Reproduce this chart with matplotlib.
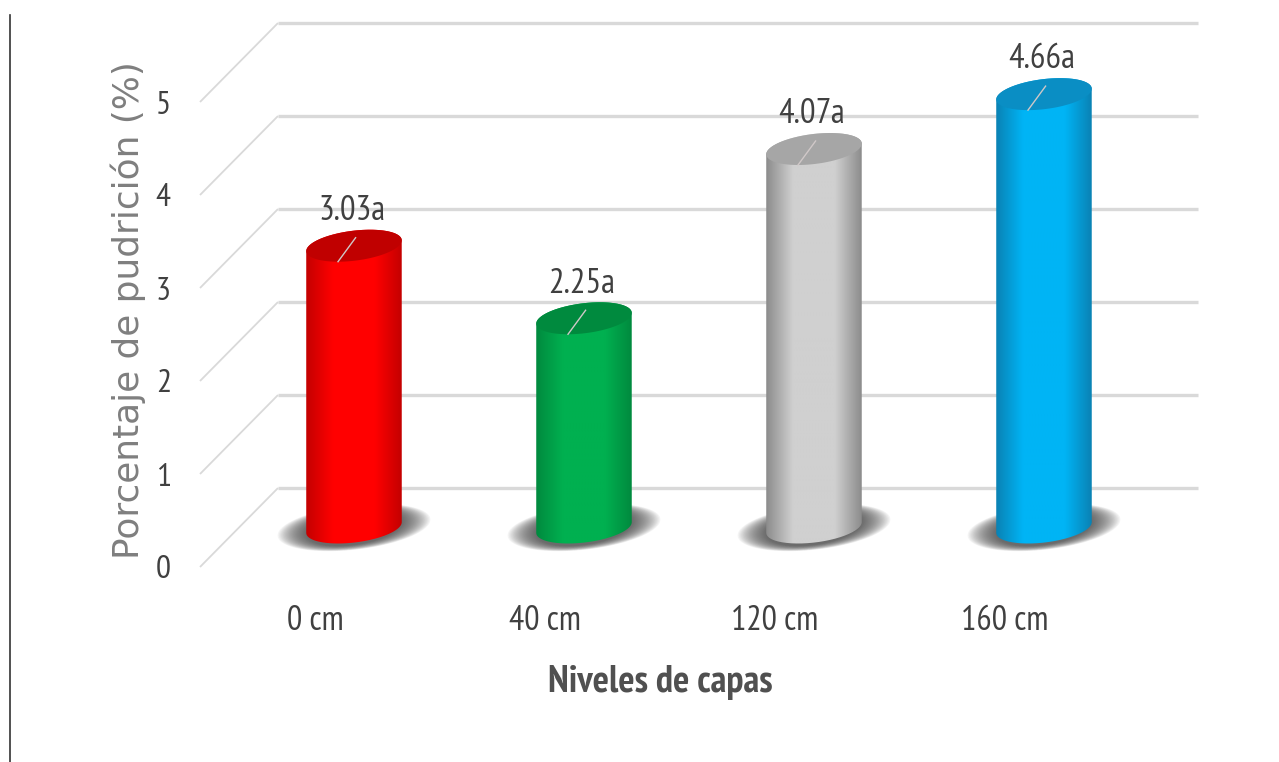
"""
Porcentaje de pudricion por nivel de capas, drawn as 3D looking cylinders.
"""

import logging

import matplotlib

matplotlib.use("Agg")
import matplotlib.pyplot as plt
from matplotlib.colors import LinearSegmentedColormap
from matplotlib.lines import Line2D
from matplotlib.patches import PathPatch, Polygon
from matplotlib.path import Path
import numpy as np

logging.getLogger("matplotlib.font_manager").setLevel(logging.ERROR)

CATEGORIES = ["0 cm", "40 cm", "120 cm", "160 cm"]
VALUES = [3.03, 2.25, 4.07, 4.66]
VALUE_LABELS = ["3.03a", "2.25a", "4.07a", "4.66a"]
Y_TICKS = [0, 1, 2, 3, 4, 5]
Y_LABEL = "Porcentaje de pudrición (%)"
X_LABEL = "Niveles de capas"

BODY_EDGE = ["#c40000", "#008a3e", "#8c8c8c", "#0a82b4"]
BODY_MID = ["#ff0000", "#00b050", "#d0d0d0", "#00b4f5"]
TOP_COLORS = ["#c00000", "#008a3e", "#a6a6a6", "#0a8ec4"]

NARROW = ["PT Sans Narrow", "Archivo Narrow", "Roboto Condensed", "Liberation Sans", "DejaVu Sans"]

# Oblique projection: how far one unit of depth moves in data units
DEPTH_X = 78 / 230
DEPTH_Y = 79 / 93
RADIUS_X = 45 / 230
RADIUS_DX = 16 / 230
RADIUS_DY = 16 / 93


def ellipse(cx, cy, scale=1.0, start=0.0, stop=2 * np.pi):
    t = np.linspace(start, stop, 80)
    x = cx + scale * (RADIUS_X * np.cos(t) + RADIUS_DX * np.sin(t))
    y = cy + scale * RADIUS_DY * np.sin(t)
    return x, y


def draw_walls(ax):
    x0, x1 = ax.get_xlim()
    for v in Y_TICKS:
        ax.plot(
            [x0, x0 + DEPTH_X],
            [v, v + DEPTH_Y],
            color="#d9d9d9",
            lw=1.3,
            zorder=1,
            clip_on=False,
            solid_capstyle="butt",
        )
        ax.plot(
            [x0 + DEPTH_X, x1 + DEPTH_X],
            [v + DEPTH_Y, v + DEPTH_Y],
            color="#d9d9d9",
            lw=2.4,
            zorder=1,
            clip_on=False,
            solid_capstyle="butt",
        )


def draw_shadow(ax, cx, cy):
    # stack of faint ellipses to fake the soft shadow under the cylinder
    for scale in np.linspace(1.6, 1.0, 24):
        x, y = ellipse(cx, cy, scale=scale)
        y = cy + (y - cy) * (0.55 + 0.6 / scale)
        ax.add_patch(
            Polygon(
                np.column_stack([x, y]),
                closed=True,
                facecolor="#404040",
                edgecolor="none",
                alpha=0.055,
                zorder=2,
                clip_on=False,
            )
        )


def draw_cylinder(ax, fig, i, value):
    cx = i + 0.5 * DEPTH_X
    base_y = 0.5 * DEPTH_Y
    top_y = value + base_y

    draw_shadow(ax, cx, base_y)

    # silhouette: front half of the base, then up and across the top
    t_right = np.arctan2(RADIUS_DX, RADIUS_X)
    bx, by = ellipse(cx, base_y, start=t_right + np.pi, stop=t_right + 2 * np.pi)
    tx, ty = ellipse(cx, top_y, start=t_right, stop=t_right + np.pi)
    verts = np.column_stack(
        [np.concatenate([bx, tx]), np.concatenate([by, ty])]
    )

    half = np.hypot(RADIUS_X, RADIUS_DX)
    cmap = LinearSegmentedColormap.from_list(
        "body",
        [
            (0.0, BODY_EDGE[i]),
            (0.28, BODY_MID[i]),
            (0.72, BODY_MID[i]),
            (1.0, BODY_EDGE[i]),
        ],
    )
    img = ax.imshow(
        np.linspace(0, 1, 128).reshape(1, -1),
        extent=[cx - half, cx + half, -0.1, top_y + 0.5],
        cmap=cmap,
        aspect="auto",
        zorder=3,
    )
    clip = PathPatch(Path(np.vstack([verts, verts[0]])), transform=ax.transData)
    img.set_clip_path(clip)
    img.set_clip_box(fig.bbox)

    x, y = ellipse(cx, top_y)
    ax.add_patch(
        Polygon(
            np.column_stack([x, y]),
            closed=True,
            facecolor=TOP_COLORS[i],
            edgecolor="none",
            zorder=4,
            clip_on=False,
        )
    )
    # little leader line left on the cap
    ax.add_line(
        Line2D(
            [cx - RADIUS_DX, cx + 0.1 * RADIUS_DX],
            [top_y - RADIUS_DY, top_y + 0.5 * RADIUS_DY],
            color="#d0c8c8",
            lw=1.0,
            zorder=5,
            clip_on=False,
        )
    )
    ax.annotate(
        VALUE_LABELS[i],
        (cx, top_y),
        xytext=(-1.5, 25),
        textcoords="offset points",
        ha="center",
        va="center",
        fontsize=25,
        family=NARROW,
        color="#404040",
        zorder=6,
        annotation_clip=False,
    )


def plot_chart():
    width, height = 1279, 762
    fig = plt.figure(figsize=(width / 100, height / 100), dpi=100)
    ax = fig.add_axes(
        [200 / width, (height - 567) / height, 920 / width, 465 / height]
    )
    ax.set_xlim(-0.5, len(CATEGORIES) - 0.5)
    ax.set_ylim(0, 5)

    draw_walls(ax)
    for i, value in enumerate(VALUES):
        draw_cylinder(ax, fig, i, value)

    ax.set_xlim(-0.5, len(CATEGORIES) - 0.5)
    ax.set_ylim(0, 5)
    for side in ax.spines.values():
        side.set_visible(False)
    ax.patch.set_visible(False)

    ax.set_xticks(range(len(CATEGORIES)))
    ax.set_xticklabels(CATEGORIES, family=NARROW, fontsize=24.5, color="#404040")
    ax.set_yticks(Y_TICKS)
    ax.set_yticklabels(
        [str(v) for v in Y_TICKS], family=NARROW, fontsize=24, color="#404040"
    )
    ax.tick_params(axis="x", length=0, pad=27)
    ax.tick_params(axis="y", length=0, pad=21)

    fig.text(
        128 / width,
        1 - 310 / height,
        Y_LABEL,
        rotation=90,
        ha="center",
        va="center",
        fontsize=25.8,
        family="DejaVu Sans",
        color="#7f7f7f",
    )
    fig.text(
        660 / width,
        1 - 683 / height,
        X_LABEL,
        ha="center",
        va="center",
        fontsize=27.5,
        fontweight="bold",
        family=NARROW,
        color="#505050",
    )
    fig.add_artist(
        Line2D(
            [10 / width, 10 / width],
            [0, 1 - 15 / height],
            color="#333333",
            lw=1.2,
        )
    )

    fig.savefig("out.png", dpi=100, facecolor="white")


if __name__ == "__main__":
    plot_chart()
